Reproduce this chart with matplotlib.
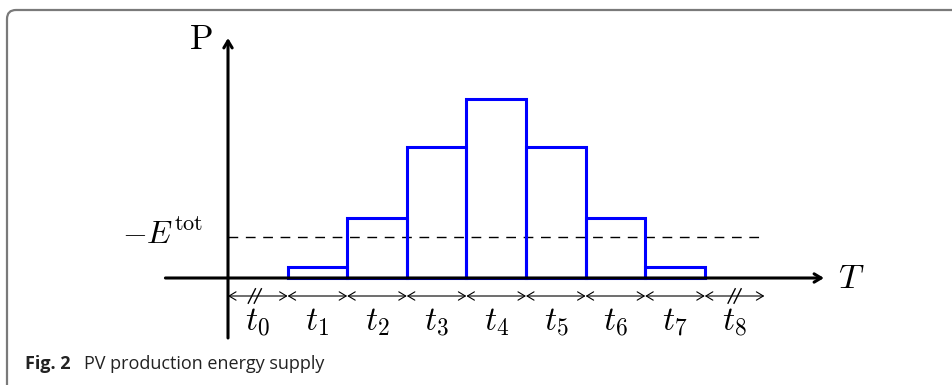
import numpy as np
import matplotlib.pyplot as plt
from matplotlib.patches import FancyBboxPatch
from matplotlib.transforms import IdentityTransform

plt.rcParams["mathtext.fontset"] = "cm"

# slot labels t0..t8, bars sit on slots t1..t7
slot_labels = [f"$t_{i}$" for i in range(9)]
bar_slots = [1, 2, 3, 4, 5, 6, 7]
bar_heights = [0.18, 1.0, 2.18, 2.98, 2.18, 1.0, 0.18]
e_tot = 0.68

W, H = 953, 385
SX, SY = 59.6, 60.0   # px per unit
fig = plt.figure(figsize=(W / 100, H / 100), dpi=100)
ax = fig.add_axes([0, 0, 1, 1])
# origin at pixel (228, 278)
ax.set_xlim(-228 / SX, (W - 228) / SX)
ax.set_ylim(-(H - 278) / SY, 278 / SY)
ax.axis("off")

# rounded frame, only the top-left corner visible
frame = FancyBboxPatch((7, -100), W + 100, H - 10 + 100,
                       boxstyle="round,pad=0,rounding_size=9",
                       transform=IdentityTransform(), fill=False,
                       edgecolor="#7a7a7a", lw=1.6, zorder=0)
fig.patches.append(frame)

# bars
ax.bar(np.array(bar_slots) + 0.5, bar_heights, width=1.0, fill=False,
       edgecolor="#0000ff", lw=2.2, zorder=3)

# dashed -E^tot level
ax.plot([0, 9], [e_tot, e_tot], ls=(0, (7, 5.5)), color="black", lw=1.0, zorder=2)
ax.text(-1.09, e_tot + 0.02, r"$-E^{\mathrm{tot}}$", fontsize=23,
        ha="center", va="center")

# axes with arrows
ax.annotate("", xy=(10.0, 0), xytext=(-1.05, 0),
            arrowprops=dict(arrowstyle="->,head_length=0.5,head_width=0.3",
                            lw=2.2, color="black", shrinkA=0, shrinkB=0),
            zorder=4)
ax.annotate("", xy=(0, 4.0), xytext=(0, -1.0),
            arrowprops=dict(arrowstyle="->,head_length=0.5,head_width=0.3",
                            lw=2.2, color="black", shrinkA=0, shrinkB=0),
            zorder=4)
ax.text(10.45, 0.0, "$T$", fontsize=25, ha="center", va="center")
ax.text(-0.45, 3.98, r"$\mathrm{P}$", fontsize=25, ha="center", va="center")

# interval arrows under the axis
ya = -0.3
for i, lab in enumerate(slot_labels):
    ax.annotate("", xy=(i + 1, ya), xytext=(i, ya),
                arrowprops=dict(arrowstyle="<->,head_length=0.5,head_width=0.3",
                                lw=0.8, color="black", shrinkA=0, shrinkB=0))
    ax.text(i + 0.5, -0.73, lab, fontsize=24, ha="center", va="center")

# break marks on the first and last slots
for c in [0.45, 8.5]:
    for d in (-0.05, 0.05):
        ax.plot([c + d - 0.06, c + d + 0.06], [ya - 0.12, ya + 0.12],
                color="black", lw=1.0)

fig.text(25 / W, 1 - 364 / H, "Fig. 2", fontsize=13, fontweight="bold",
         family="Open Sans", va="center", color="#222222")
fig.text(84 / W, 1 - 364 / H, "PV production energy supply", fontsize=13,
         family="Open Sans", va="center", color="#222222")

fig.savefig("out.png", dpi=100)
